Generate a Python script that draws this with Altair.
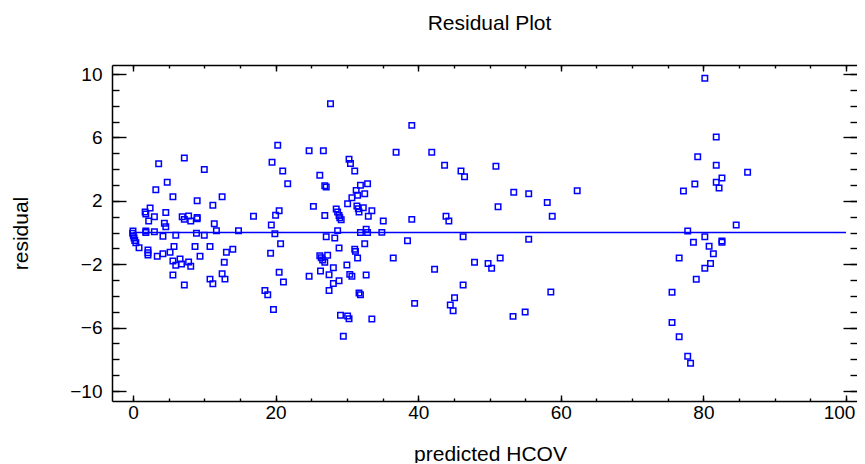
import altair as alt
import pandas as pd

# ---- data (predicted HCOV, residual) ----
pred_low = [0.0, -0.05, 0.05, 0.15, 0.25, 0.40, 0.85, 1.7, 1.8, 2.4, 2.2, 3.0, 1.8, 1.8, 3.0,
            4.2, 6.0, 4.6, 4.4, 4.6, 6.9, 7.8, 7.2, 8.1, 9.0, 9.0, 8.9, 10.0, 11.7, 11.4, 14.8,
            3.6, 7.2, 10.0, 4.8, 3.2, 5.6, 9.0, 12.5, 11.2, 5.75, 8.7, 10.8, 14.0, 13.1,
            2.1, 2.1, 2.1, 3.4, 4.2, 5.2, 9.4, 5.6, 6.6, 6.0, 6.8, 7.8, 8.1, 12.8,
            5.6, 12.5, 12.9, 10.8, 11.2, 7.2, 16.9]
resid_low = [0.10, -0.05, -0.20, -0.35, -0.50, -0.65, -0.96, 1.30, 1.17, 1.55, 0.73, 1.00, 0.10, 0.00, 0.05,
             -0.24, -0.17, 1.27, 0.58, 0.37, 1.00, 1.04, 0.83, 0.73, 0.87, 0.95, -0.05, -0.17, 0.11, 0.56, 0.11,
             4.34, 4.70, 3.98, 3.17, 2.70, 2.26, 2.00, 2.26, 1.72, -0.88, -0.88, -0.88, -1.06, -1.24,
             -1.10, -1.27, -1.42, -1.50, -1.34, -1.24, -1.50, -1.80, -1.67, -2.07, -1.99, -1.86, -2.13, -1.88,
             -2.68, -2.60, -2.94, -2.94, -3.23, -3.31, 1.02]

pred_mid = [27.7, 20.3, 24.7, 26.7, 19.5, 21.0, 21.7, 26.2, 26.9, 27.1,
            30.3, 30.5, 31.1, 32.9, 31.9, 31.3, 32.5, 31.5, 30.7, 30.1,
            25.3, 31.4, 31.6, 31.7, 32.3, 33.5, 33.0, 35.1,
            28.5, 28.7, 28.9, 29.0, 29.2, 26.9,
            20.0, 20.5, 19.4, 19.9,
            28.7, 27.1, 28.3, 31.9, 32.7, 32.9, 34.9,
            20.7, 32.5, 28.9, 31.1, 31.2, 31.5,
            19.3, 26.2, 26.4, 26.6, 26.9, 27.3,
            26.3, 27.5, 28.1, 30.0, 30.4, 30.7, 32.7, 24.7,
            20.5, 21.1, 28.9, 28.1, 27.5, 31.7, 31.9,
            18.5, 18.9, 19.7,
            29.1, 30.1, 30.3, 33.5, 29.5]
resid_mid = [8.13, 5.51, 5.16, 5.16, 4.44, 3.88, 3.08, 3.62, 2.95, 2.87,
             4.62, 4.36, 3.88, 3.08, 2.98, 2.66, 2.45, 2.35, 2.20, 1.82,
             1.65, 1.67, 1.50, 1.29, 1.56, 1.38, 1.02, 0.73,
             1.48, 1.29, 1.08, 0.93, 0.81, 1.08,
             1.09, 1.37, 0.47, -0.08,
             0.12, -0.26, -0.35, 0.00, 0.20, 0.00, 0.01,
             -0.71, -0.71, -0.98, -1.06, -1.19, -1.61,
             -1.31, -1.46, -1.59, -1.74, -1.88, -1.44,
             -2.43, -2.66, -2.22, -2.05, -2.64, -2.76, -2.68, -2.76,
             -2.50, -3.12, -3.04, -3.21, -3.66, -3.82, -3.92,
             -3.66, -3.93, -4.85,
             -5.22, -5.27, -5.44, -5.46, -6.55]

pred_upper = [39.1, 36.9, 41.9, 43.7, 46.0, 46.5, 50.9, 53.4, 55.5, 62.3, 58.1, 51.2, 58.8,
              39.1, 43.9, 44.3, 38.5, 46.3, 55.5, 36.5, 42.3, 47.9, 49.8, 50.3, 51.5,
              46.3, 58.6, 39.5, 45.1, 44.5, 44.9, 53.3, 55.0]
resid_upper = [6.76, 5.06, 5.06, 4.24, 3.88, 3.52, 4.18, 2.54, 2.45, 2.64, 1.90, 1.63, 1.02,
               0.83, 1.02, 0.73, -0.52, -0.26, -0.43, -1.61, -2.32, -1.88, -1.95, -2.26, -1.61,
               -3.31, -3.75, -4.47, -4.11, -4.57, -4.93, -5.29, -5.02]

pred_high = [80.2, 81.8, 79.2, 81.8, 86.2, 82.6, 81.8, 82.2, 78.8, 77.2, 84.6, 77.8, 80.2,
             78.6, 82.6, 82.6, 80.8, 81.4, 76.6, 81.0, 80.2, 79.0, 75.6, 75.6, 76.6, 77.8, 78.2]
resid_high = [9.73, 6.03, 4.78, 4.24, 3.80, 3.44, 3.17, 2.81, 3.06, 2.62, 0.47, 0.09, -0.26,
              -0.62, -0.54, -0.62, -0.87, -1.34, -1.61, -1.95, -2.26, -2.95, -3.77, -5.67, -6.57, -7.81, -8.25]

x_major = [0, 20, 40, 60, 80, 100]
x_minor = list(range(0, 101, 5))
y_major = [-10, -6, -2, 2, 6, 10]
y_minor = list(range(-10, 11, 1))
zero_line = {"x0": [0], "x1": [100], "y0": [0]}

df = pd.DataFrame({
    "pred": pred_low + pred_mid + pred_upper + pred_high,
    "resid": resid_low + resid_mid + resid_upper + resid_high,
})
line_df = pd.DataFrame(zero_line)

FONT = "Liberation Sans"
BLUE = "#0000ff"
xs = alt.Scale(domain=[-2.945, 101.542], nice=False, zero=False)
ys = alt.Scale(domain=[-10.63, 10.57], nice=False, zero=False)


def axis(orient, values, size, labels=False, title=None, pad=None, lpad=4, tx=None, loff=None):
    kw = dict(orient=orient, values=values, tickSize=size, offset=-size,
              domain=False, grid=False, labels=labels, title=title,
              tickColor="black", tickWidth=1.4, labelFlush=False,
              labelOverlap=False, labelPadding=lpad,
              labelFont=FONT, labelFontSize=19, labelColor="black",
              titleFont=FONT, titleFontSize=21, titleFontWeight="normal",
              titleColor="black")
    if pad is not None:
        kw["titlePadding"] = pad
    if tx is not None:
        kw["titleX"] = tx
    if loff is not None:
        kw["labelOffset"] = loff
    return alt.Axis(**kw)


def frame_axis(orient):
    return alt.Axis(orient=orient, domain=True, domainColor="black", domainWidth=1.5,
                    ticks=False, labels=False, grid=False, title=None)


last_label_shift = {"condition": {"test": "datum.value == 100", "value": -7}, "value": 0}

points = alt.Chart(df).mark_point(
    shape="square", filled=False, color=BLUE, size=30, strokeWidth=1.5, opacity=1
).encode(
    x=alt.X("pred:Q", scale=xs,
            axis=axis("bottom", x_major, 6, labels=True, title="predicted HCOV", pad=21,
                      lpad=2, tx=378, loff=last_label_shift)),
    y=alt.Y("resid:Q", scale=ys,
            axis=axis("left", y_major, 14, labels=True, title="residual", pad=38, lpad=10)),
)

zero = alt.Chart(line_df).mark_rule(color=BLUE, strokeWidth=1.4).encode(
    x=alt.X("x0:Q", scale=xs, axis=axis("bottom", x_minor, 3)),
    x2="x1:Q",
    y=alt.Y("y0:Q", scale=ys, axis=axis("left", y_minor, 7)),
)

mirror_major = alt.Chart(df).mark_point(opacity=0).encode(
    x=alt.X("pred:Q", scale=xs, axis=axis("top", x_major, 6)),
    y=alt.Y("resid:Q", scale=ys, axis=axis("right", y_major, 14)),
)

mirror_minor = alt.Chart(df).mark_point(opacity=0).encode(
    x=alt.X("pred:Q", scale=xs, axis=axis("top", x_minor, 3)),
    y=alt.Y("resid:Q", scale=ys, axis=axis("right", y_minor, 7)),
)

frame_bl = alt.Chart(line_df).mark_point(opacity=0).encode(
    x=alt.X("x0:Q", scale=xs, axis=frame_axis("bottom")),
    y=alt.Y("y0:Q", scale=ys, axis=frame_axis("left")),
)

frame_t = alt.Chart(line_df).mark_point(opacity=0).encode(
    x=alt.X("x0:Q", scale=xs, axis=frame_axis("top")),
    y=alt.Y("y0:Q", scale=ys, axis=None),
)

chart = alt.layer(points, zero, mirror_major, mirror_minor, frame_bl, frame_t).resolve_axis(
    x="independent", y="independent"
).properties(
    width=745,
    height=336,
    autosize=alt.AutoSizeParams(type="none"),
    padding={"left": 104, "top": 57, "right": 0, "bottom": 62},
    title=alt.Title("Residual Plot", font=FONT, fontSize=21, fontWeight="normal",
                    color="black", anchor="middle", offset=30, dx=5),
).configure_view(stroke=None)

chart.save("out.html", embed_options={"renderer": "svg", "actions": False})
